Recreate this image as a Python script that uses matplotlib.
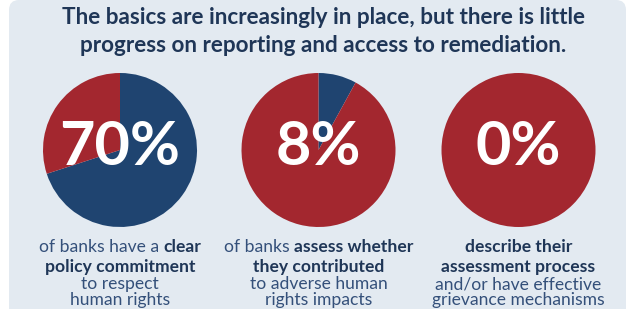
import matplotlib.pyplot as plt
from matplotlib.patches import FancyBboxPatch

# chart data
title_lines = ["The basics are increasingly in place, but there is little",
               "progress on reporting and access to remediation."]
shares = [70, 8, 0]
labels = ["70%", "8%", "0%"]
# captions: each line is a list of (text, bold) pieces
captions = [
    [[("of banks have a ", False), ("clear", True)],
     [("policy commitment", True)],
     [("to respect", False)],
     [("human rights", False)]],
    [[("of banks ", False), ("assess whether", True)],
     [("they contributed", True)],
     [("to adverse human", False)],
     [("rights impacts", False)]],
    [[("describe their", True)],
     [("assessment process", True)],
     [("and/or have effective", False)],
     [("grievance mechanisms", False)]],
]

navy = "#1f4470"
red = "#a3272f"
bg = "#e3eaf1"
dark = "#1f3657"
text_reg = "#34507a"
W, H = 634, 309

plt.rcParams['font.family'] = ['Lato', 'DejaVu Sans']
fig = plt.figure(figsize=(W / 100, H / 100), dpi=100)
ax = fig.add_axes([0, 0, 1, 1])

# background panel
ax.add_patch(FancyBboxPatch((9, -20), 617, H + 20, boxstyle="round,pad=0,rounding_size=10",
                            fc=bg, ec="none"))

for i, line in enumerate(title_lines):
    ax.text(323, H - 17 - 28 * i, line, ha="center", va="center", fontsize=16.2,
            fontweight="bold", color=dark)

centers = [120, 318.5, 518.5]
for cx, val, lab in zip(centers, shares, labels):
    ax.pie([val, 100 - val], colors=[navy, red], startangle=90, counterclock=False,
           center=(cx, H - 150), radius=77, frame=True,
           wedgeprops=dict(linewidth=0))
    ax.text(cx, H - 147, lab, ha="center", va="center", fontsize=44,
            fontweight="bold", color="white")

ax.set_xlim(0, W)
ax.set_ylim(0, H)
ax.axis("off")

renderer = fig.canvas.get_renderer()
line_y = [247, 267, 284, 300]
for cx, cap in zip(centers, captions):
    for ly, pieces in zip(line_y, cap):
        texts = []
        for txt, bold in pieces:
            t = ax.text(0, H - ly, txt, ha="left", va="center", fontsize=12.6,
                        fontweight="bold" if bold else "normal",
                        color=dark if bold else text_reg)
            texts.append(t)
        widths = [t.get_window_extent(renderer).width for t in texts]
        x = cx - sum(widths) / 2
        for t, w in zip(texts, widths):
            t.set_x(x)
            x += w

fig.savefig("out.png", dpi=100, facecolor="white")
